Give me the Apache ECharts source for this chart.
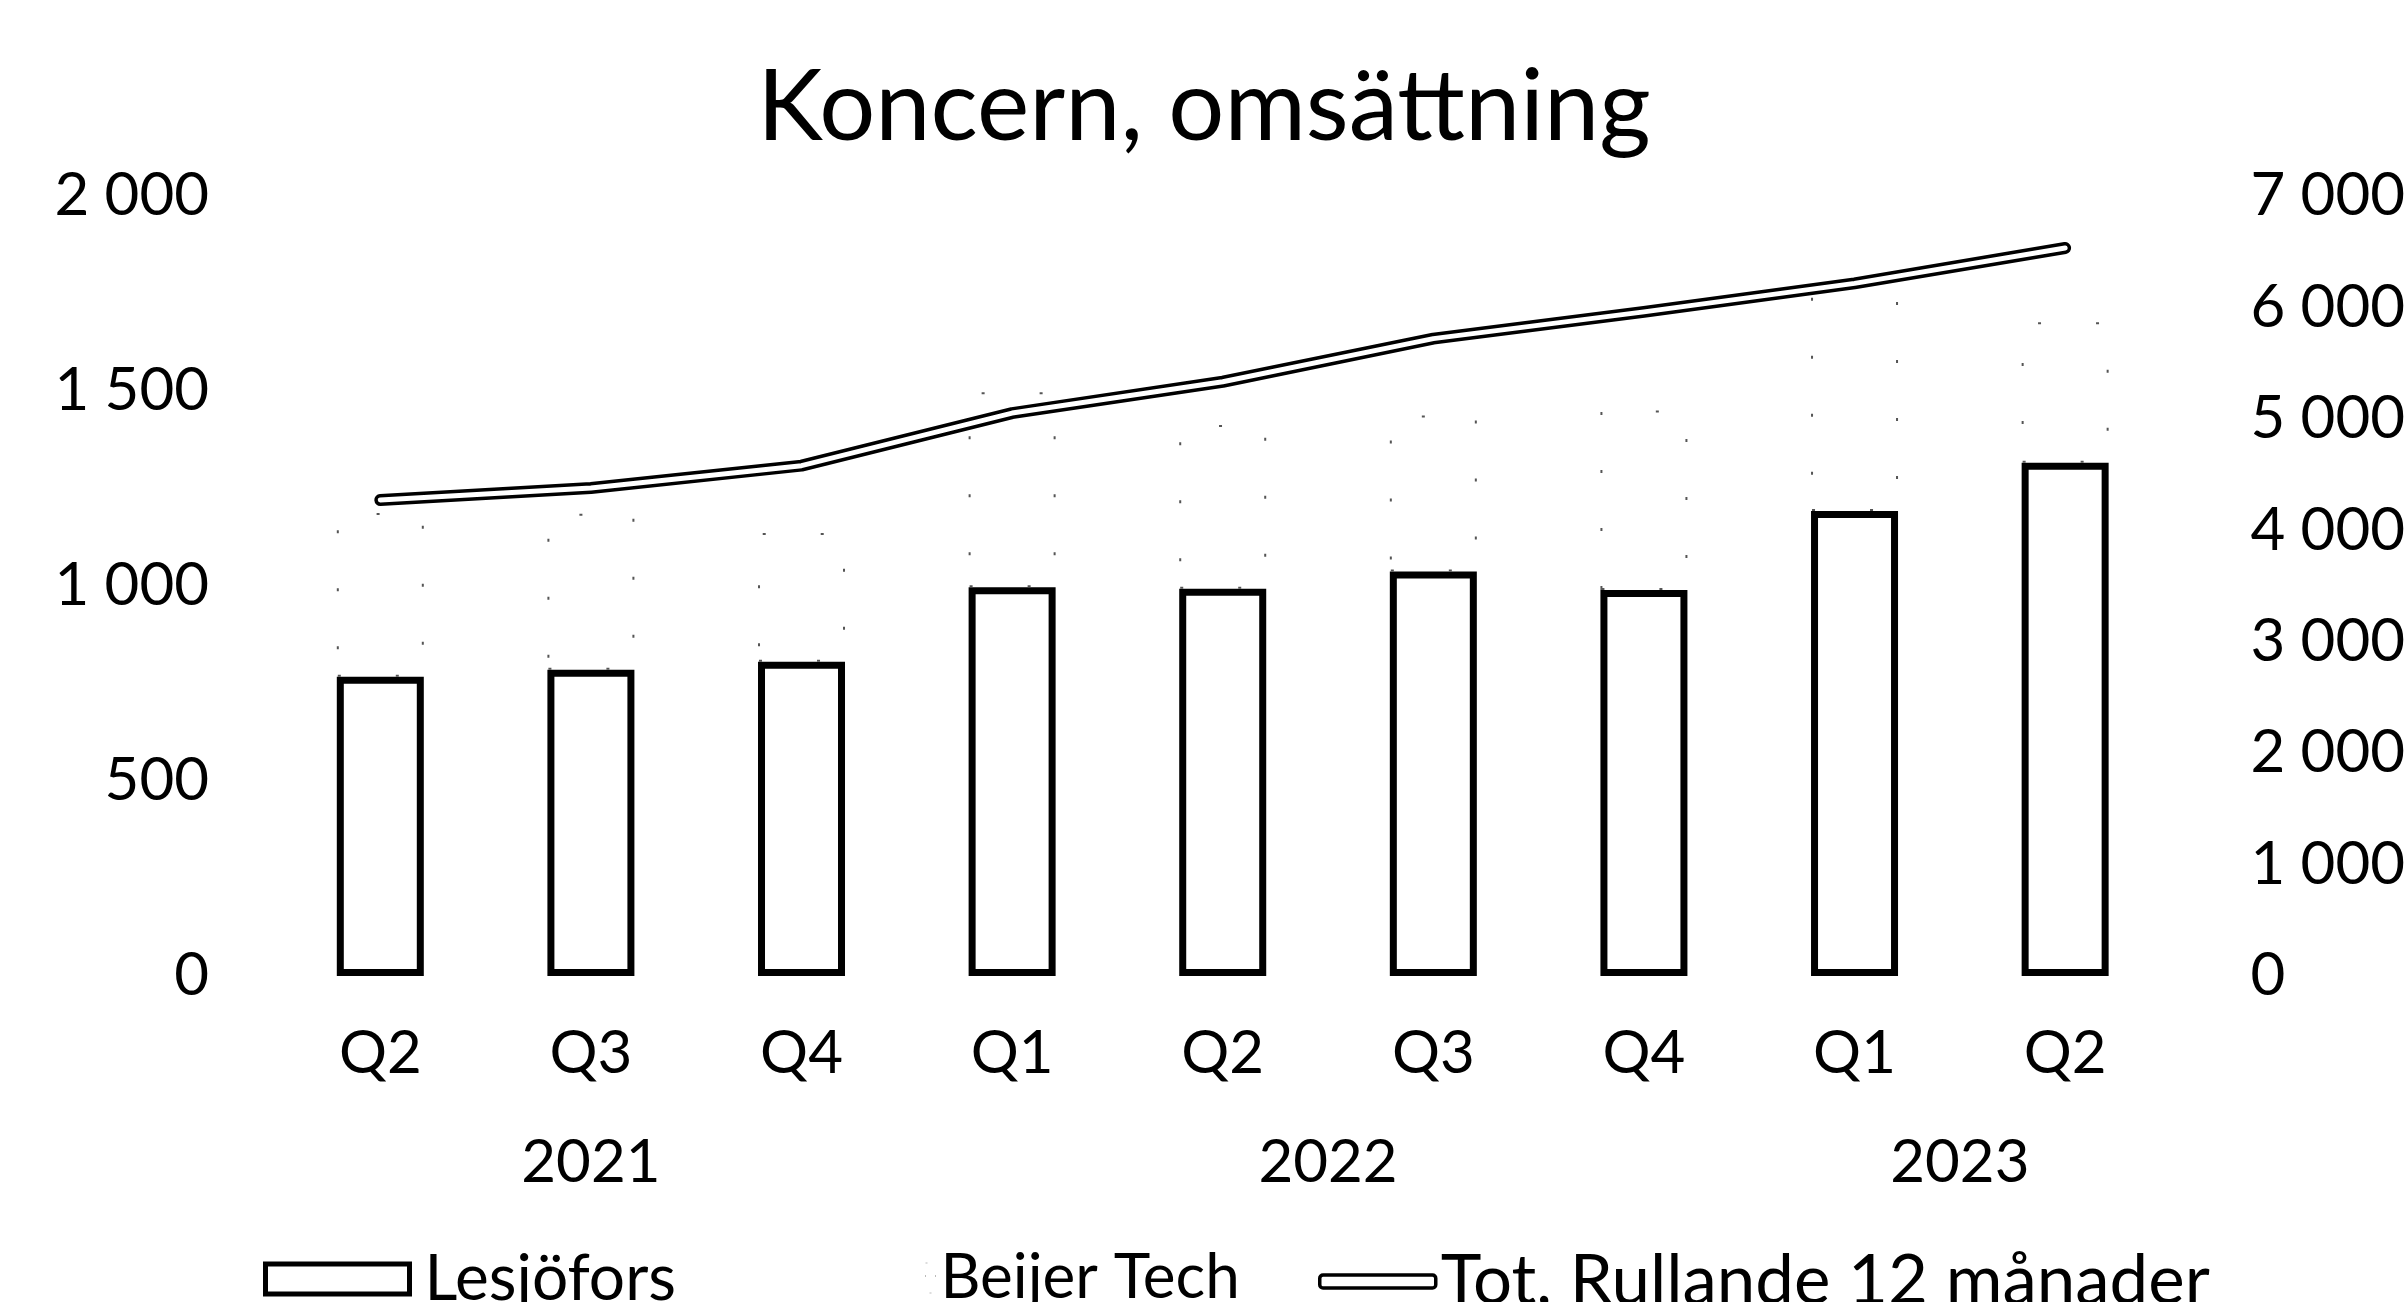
<!DOCTYPE html>
<html>
<head>
<meta charset="utf-8">
<script src="https://cdn.jsdelivr.net/npm/echarts@6/dist/echarts.min.js"></script>
<style>
html,body{margin:0;padding:0;background:#fff;}
#chart{width:2408px;height:1302px;}
</style>
</head>
<body>
<div id="chart"></div>
<script>
// ---- data ----
const categories = ['Q2', 'Q3', 'Q4', 'Q1', 'Q2', 'Q3', 'Q4', 'Q1', 'Q2'];
const years = ['2021', '2022', '2023'];
const quartersPerYear = [3, 4, 2];
const lesjofors = [767, 785, 806, 997, 993, 1037, 990, 1192, 1316];
const beijerTech = [420, 400, 330, 500, 420, 400, 460, 580, 360];
const rolling12 = [4272, 4379, 4580, 5052, 5333, 5720, 5960, 6216, 6533];
const leftAxisTicks = { min: 0, max: 2000, interval: 500 };
const rightAxisTicks = { min: 0, max: 7000, interval: 1000 };
const seriesNames = ['Lesjöfors', 'Beijer Tech', 'Tot, Rullande 12 månader'];

// ---- helpers ----
const FONT = 'Lato';
function spaced(v) { return String(v).replace(/\B(?=(\d{3})+(?!\d))/g, ' '); }
const yearCenters = [];
(function () {
  let s = 0;
  quartersPerYear.forEach(n => { yearCenters.push(s + (n - 1) / 2); s += n; });
})();

const chart = echarts.init(document.getElementById('chart'), null, { renderer: 'canvas' });
const txt = { color: '#000', fontFamily: FONT, fontSize: 60 };

const option = {
  animation: false,
  backgroundColor: '#fff',
  title: {
    text: 'Koncern, omsättning',
    left: 'center',
    top: 54,
    textStyle: { color: '#000', fontFamily: FONT, fontSize: 99, fontWeight: 'normal' }
  },
  grid: { left: 275, right: 235, top: 196, bottom: 326, containLabel: false },
  legend: [
    {
      data: [{ name: seriesNames[0], icon: 'rect', itemStyle: { color: '#fff', borderColor: '#000', borderWidth: 5 } }],
      left: 258, top: 1242, itemWidth: 144, itemHeight: 30,
      textStyle: Object.assign({}, txt, { fontSize: 64, padding: [0, 0, 0, 10] }),
      selectedMode: false
    },
    {
      data: [{ name: seriesNames[1], icon: 'rect', itemStyle: { color: 'rgba(0,0,0,0)', borderColor: '#bbb', borderWidth: 1, borderType: [2, 20] } }],
      left: 920, top: 1242, itemWidth: 10, itemHeight: 30,
      textStyle: Object.assign({}, txt, { fontSize: 62 }),
      selectedMode: false
    },
    {
      data: [{ name: seriesNames[2], icon: 'roundRect', itemStyle: { color: '#fff', borderColor: '#000', borderWidth: 3.5 } }],
      left: 1313, top: 1242, itemWidth: 116, itemHeight: 13,
      textStyle: Object.assign({}, txt, { fontSize: 69 }),
      selectedMode: false
    }
  ],
  xAxis: [
    {
      type: 'category',
      data: categories,
      axisLine: { show: false },
      axisTick: { show: false },
      splitLine: { show: false },
      axisLabel: Object.assign({}, txt, { margin: 48 })
    },
    {
      type: 'value',
      min: -0.5,
      max: categories.length - 0.5,
      position: 'bottom',
      axisLine: { show: false },
      axisTick: { show: false },
      splitLine: { show: false },
      axisLabel: Object.assign({}, txt, {
        margin: 157,
        customValues: yearCenters,
        formatter: v => {
          const i = yearCenters.findIndex(c => Math.abs(c - v) < 1e-6);
          return i >= 0 ? years[i] : '';
        }
      })
    }
  ],
  yAxis: [
    {
      type: 'value',
      min: leftAxisTicks.min, max: leftAxisTicks.max, interval: leftAxisTicks.interval,
      axisLine: { show: false }, axisTick: { show: false }, splitLine: { show: false },
      axisLabel: Object.assign({}, txt, { margin: 66, formatter: v => spaced(v) })
    },
    {
      type: 'value',
      position: 'right',
      min: rightAxisTicks.min, max: rightAxisTicks.max, interval: rightAxisTicks.interval,
      axisLine: { show: false }, axisTick: { show: false }, splitLine: { show: false },
      axisLabel: Object.assign({}, txt, { margin: 80, formatter: v => spaced(v) })
    }
  ],
  series: [
    {
      name: seriesNames[0],
      type: 'bar',
      stack: 'koncern',
      barWidth: 87,
      data: lesjofors,
      itemStyle: { color: '#fff', borderColor: '#000', borderWidth: 7 }
    },
    {
      name: seriesNames[1],
      type: 'bar',
      stack: 'koncern',
      barWidth: 87,
      data: beijerTech,
      itemStyle: { color: 'rgba(0,0,0,0)', borderColor: '#555', borderWidth: 2, borderType: [3, 55] }
    },
    {
      name: seriesNames[2],
      type: 'line',
      yAxisIndex: 1,
      data: rolling12,
      symbol: 'none',
      smooth: false,
      lineStyle: { color: '#000', width: 12, cap: 'round', join: 'round' },
      z: 5
    },
    {
      name: '_inner',
      type: 'line',
      yAxisIndex: 1,
      data: rolling12,
      symbol: 'none',
      smooth: false,
      lineStyle: { color: '#fff', width: 5, cap: 'round', join: 'round' },
      z: 6,
      silent: true
    }
  ]
};
chart.setOption(option);
</script>
</body>
</html>
